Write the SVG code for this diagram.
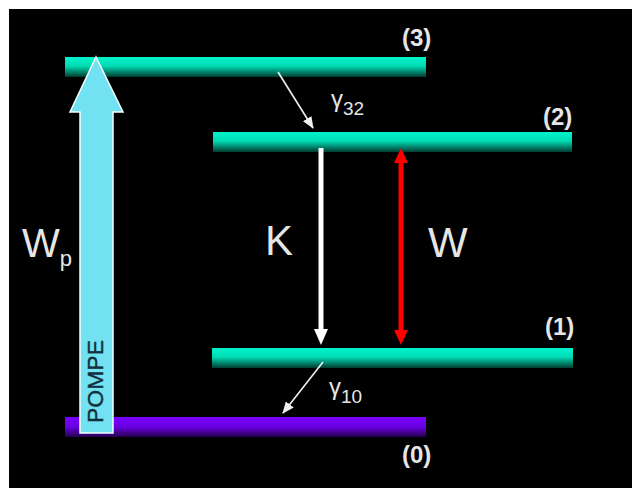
<svg xmlns="http://www.w3.org/2000/svg" width="632" height="488" viewBox="0 0 632 488">
  <style>
    .lbl { font-family: "Liberation Sans", Arial, sans-serif; fill: #e6e6e6; }
    .num { font-family: "Liberation Sans", Arial, sans-serif; font-weight: bold; font-size: 24px; fill: #e6e6e6; }
  </style>
  <defs>
    <linearGradient id="teal" x1="0" y1="0" x2="0" y2="1">
      <stop offset="0" stop-color="#00f4cc"/>
      <stop offset="0.45" stop-color="#00dcb4"/>
      <stop offset="1" stop-color="#003c30"/>
    </linearGradient>
    <linearGradient id="purple" x1="0" y1="0" x2="0" y2="1">
      <stop offset="0" stop-color="#7a00ff"/>
      <stop offset="0.5" stop-color="#6800e0"/>
      <stop offset="1" stop-color="#24004c"/>
    </linearGradient>
    <marker id="thinhead" viewBox="0 0 12 10" refX="11" refY="5" markerWidth="12" markerHeight="10" markerUnits="userSpaceOnUse" orient="auto">
      <path d="M0,0 L12,5 L0,10 Z" fill="#f0f0f0"/>
    </marker>
  </defs>
  <rect x="0" y="0" width="632" height="488" fill="#ffffff"/>
  <rect x="9" y="9" width="623" height="479" fill="#000000"/>

  <g id="level3">
    <rect x="65" y="57" width="361" height="20" fill="url(#teal)"/>
    <text class="num" x="402" y="46">(3)</text>
  </g>
  <g id="level2">
    <rect x="213" y="132" width="359" height="20" fill="url(#teal)"/>
    <text class="num" x="543" y="125">(2)</text>
  </g>
  <g id="level1">
    <rect x="212" y="348" width="361" height="20" fill="url(#teal)"/>
    <text class="num" x="545" y="335">(1)</text>
  </g>
  <g id="level0">
    <rect x="65" y="417" width="361" height="20" fill="url(#purple)"/>
    <text class="num" x="402" y="463">(0)</text>
  </g>

  <g id="pump">
    <path d="M80,433 L80,112 L70,112 L96,57 L123,112 L113,112 L113,433 Z" fill="#72e2f2" stroke="#f4ffff" stroke-width="1.5"/>
    <text transform="translate(103,423) rotate(-90)" font-family="Liberation Sans, Arial, sans-serif" font-size="22" fill="#10303c" stroke="#10303c" stroke-width="0.4" textLength="83" lengthAdjust="spacingAndGlyphs">POMPE</text>
  </g>
  <g id="label-wp">
    <text class="lbl" x="22" y="257" font-size="40">W<tspan font-size="22" dy="9">p</tspan></text>
  </g>
  <g id="label-k">
    <text class="lbl" x="265" y="255" font-size="42">K</text>
  </g>
  <g id="label-w">
    <text class="lbl" x="428" y="257" font-size="42">W</text>
  </g>
  <g id="label-g32">
    <text class="lbl" x="331" y="107" font-size="24">γ<tspan font-size="19" dy="8">32</tspan></text>
  </g>
  <g id="label-g10">
    <text class="lbl" x="329" y="395" font-size="24">γ<tspan font-size="19" dy="8">10</tspan></text>
  </g>

  <g id="connectors">
    <line x1="278" y1="72" x2="313" y2="128" stroke="#f0f0f0" stroke-width="1.6" marker-end="url(#thinhead)"/>
    <line x1="323" y1="362" x2="283" y2="413" stroke="#f0f0f0" stroke-width="1.6" marker-end="url(#thinhead)"/>
    <line x1="321" y1="148" x2="321" y2="331" stroke="#ffffff" stroke-width="5"/>
    <path d="M314,329 L328,329 L321,345 Z" fill="#ffffff"/>
    <line x1="401" y1="160" x2="401" y2="333" stroke="#ff0000" stroke-width="5"/>
    <path d="M394,163 L408,163 L401,148 Z" fill="#ff0000"/>
    <path d="M394,330 L408,330 L401,345 Z" fill="#ff0000"/>
  </g>
</svg>
